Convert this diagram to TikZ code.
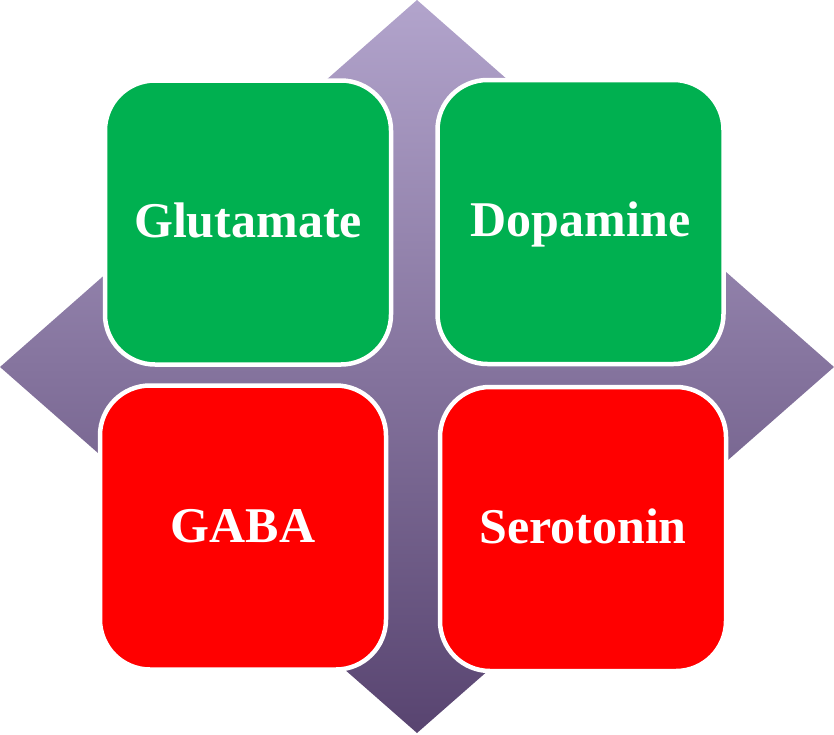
\documentclass[tikz,border=0pt]{standalone}
\usepackage{fontspec}
\setmainfont{Liberation Serif}
\definecolor{boxgreen}{RGB}{0,176,80}
\definecolor{boxred}{RGB}{255,0,0}
\definecolor{diatop}{RGB}{178,164,204}
\definecolor{diamid}{RGB}{132,108,164}
\definecolor{diabot}{RGB}{88,68,112}
\tikzset{
  ntbox/.style={draw=white, line width=4.5pt, rounded corners=50pt,
    minimum width=286pt, minimum height=284pt, inner sep=0pt,
    text=white, font=\fontsize{50}{60}\selectfont\bfseries,
    text height=34pt, text depth=5pt, align=center},
}
\begin{document}
\begin{tikzpicture}[x=1pt,y=-1pt]
\useasboundingbox (0,0) rectangle (834,734);
\shade[top color=diatop, middle color=diamid, bottom color=diabot]
  (417,0) -- (834,367) -- (417,733) -- (0,367) -- cycle;
\node[ntbox, fill=boxgreen] (glu) at (248,222.5) {Glutamate};
\node[ntbox, fill=boxgreen] (dop) at (580.5,222) {Dopamine};
\node[ntbox, fill=boxred] (gaba) at (243,527.5) {GABA};
\node[ntbox, fill=boxred] (sero) at (583,529) {Serotonin};
\end{tikzpicture}
\end{document}
